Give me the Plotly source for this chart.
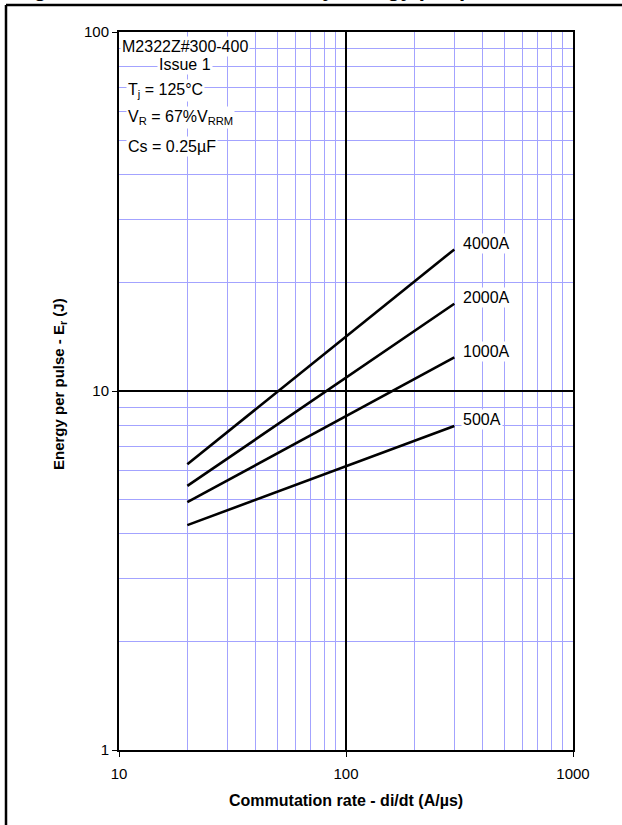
import math
import plotly.graph_objects as go

# ---- data ----
di_dt = [20, 300]
series_names = ["4000A", "2000A", "1000A", "500A"]
energy = {
    "4000A": [6.25, 24.8],
    "2000A": [5.44, 17.5],
    "1000A": [4.90, 12.4],
    "500A": [4.23, 7.99],
}
x_major = [10, 100, 1000]
y_major = [1, 10, 100]
x_minor = [20, 30, 40, 50, 60, 70, 80, 90, 200, 300, 400, 500, 600, 700, 800, 900]
y_minor = [2, 3, 4, 5, 6, 7, 8, 9, 20, 30, 40, 50, 60, 70, 80, 90]

W, H = 622, 825
ML, MR, MT, MB = 119, 49, 32, 75
PW = W - ML - MR
PH = H - MT - MB

def px(xp):
    return (xp - ML) / PW

def py(yp):
    return (H - MB - yp) / PH

FONT = "Liberation Sans, Arial, sans-serif"
MINOR = "#a3a3ff"

fig = go.Figure()
for name in series_names:
    fig.add_trace(go.Scatter(x=di_dt, y=energy[name], mode="lines",
                             line=dict(color="black", width=2.6),
                             showlegend=False, hoverinfo="skip"))

axis_common = dict(
    type="log", showline=True, linecolor="black", linewidth=2, mirror=True,
    ticks="outside", ticklen=5, tickcolor="black", tickwidth=1,
    showgrid=True, gridcolor="black", gridwidth=1.5, zeroline=False,
    tickfont=dict(family=FONT, size=15, color="black"),
)
fig.update_xaxes(range=[1, 3], tickvals=x_major, ticktext=[str(v) for v in x_major],
                 ticklabelstandoff=4,
                 minor=dict(tickvals=x_minor, showgrid=True, gridcolor=MINOR,
                            gridwidth=1, ticks=""),
                 **axis_common)
fig.update_yaxes(range=[0, 2], tickvals=y_major, ticktext=[str(v) for v in y_major],
                 minor=dict(tickvals=y_minor, showgrid=True, gridcolor=MINOR,
                            gridwidth=1, ticks=""),
                 **axis_common)

ann = []
# series labels
for name in series_names:
    ann.append(dict(x=math.log10(di_dt[-1]), y=math.log10(energy[name][-1]),
                    xref="x", yref="y", text=name, showarrow=False,
                    xanchor="left", yanchor="middle", xshift=7, yshift=6,
                    bgcolor="white", borderpad=1,
                    font=dict(family=FONT, size=16, color="black")))
# info box
ann.append(dict(x=px(185), y=py(46), xref="paper", yref="paper", text="M2322Z#300-400",
                showarrow=False, xanchor="center", yanchor="middle", bgcolor="white",
                borderpad=1, font=dict(family=FONT, size=16, color="black")))
ann.append(dict(x=px(185), y=py(65), xref="paper", yref="paper", text="Issue 1",
                showarrow=False, xanchor="center", yanchor="middle", bgcolor="white",
                borderpad=1, font=dict(family=FONT, size=16, color="black")))
for txt, yp in [("T<sub>j</sub> = 125°C", 91),
                ("V<sub>R</sub> = 67%V<sub>RRM</sub>", 118),
                ("Cs = 0.25µF", 146)]:
    ann.append(dict(x=px(126), y=py(yp), xref="paper", yref="paper", text=txt,
                    showarrow=False, xanchor="left", yanchor="middle", bgcolor="white",
                    borderpad=1, font=dict(family=FONT, size=16, color="black")))
# axis titles
ann.append(dict(x=px(346), y=py(800), xref="paper", yref="paper",
                text="<b>Commutation rate - di/dt (A/µs)</b>", showarrow=False,
                xanchor="center", yanchor="middle",
                font=dict(family=FONT, size=16, color="black")))
ann.append(dict(x=px(59), y=py(384), xref="paper", yref="paper",
                text="<b>Energy per pulse - E<sub>r</sub> (J)</b>", showarrow=False,
                textangle=-90, xanchor="center", yanchor="middle",
                font=dict(family=FONT, size=15, color="black")))
# cut-off page caption above the frame
ann.append(dict(x=px(12), y=py(3), xref="paper", yref="paper",
                text="<b>Figure 11 – Maximum recovery energy per pulse</b>", showarrow=False,
                xanchor="left", yanchor="bottom",
                font=dict(family=FONT, size=22, color="black")))

shapes = [
    dict(type="line", xref="paper", yref="paper", x0=px(6), x1=px(623), y0=py(5), y1=py(5),
         line=dict(color="black", width=2.5)),
    dict(type="line", xref="paper", yref="paper", x0=px(6), x1=px(6), y0=py(5), y1=py(826),
         line=dict(color="black", width=2.5)),
]

fig.update_layout(
    width=W, height=H, margin=dict(l=ML, r=MR, t=MT, b=MB),
    paper_bgcolor="white", plot_bgcolor="white",
    annotations=ann, shapes=shapes, showlegend=False,
)
fig.write_html("out.html", config={"displayModeBar": False},
               post_script="document.body.style.margin='0';document.body.style.overflow='hidden';")
